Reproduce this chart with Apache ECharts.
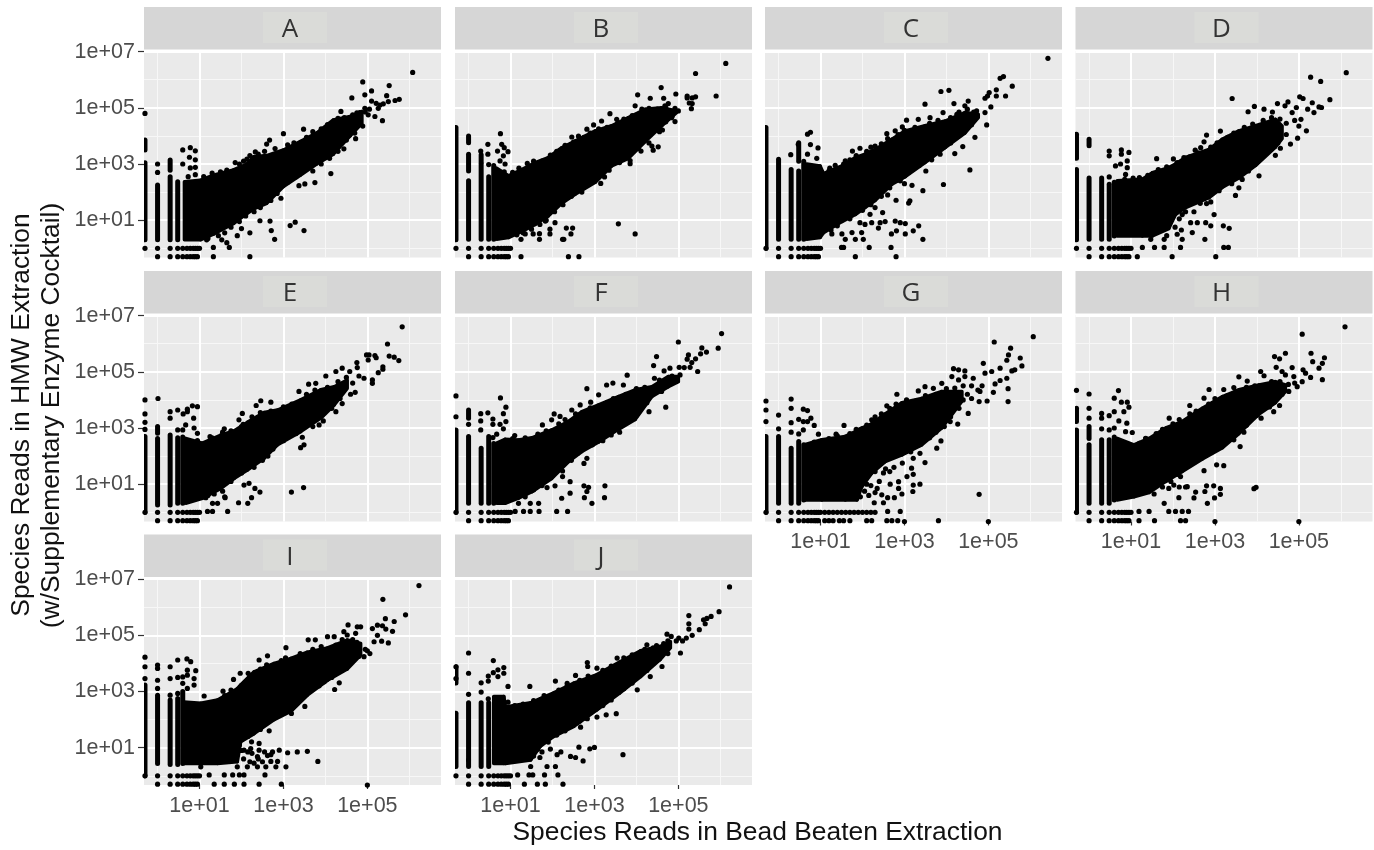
<!DOCTYPE html>
<html><head><meta charset="utf-8">
<style>html,body{margin:0;padding:0;background:#fff}#c{width:1374px;height:850px}</style>
<script src="https://cdn.jsdelivr.net/npm/echarts@6/dist/echarts.min.js"></script>
</head><body><div id="c"></div>
<script>
// All values are log10(reads): pts/edge = [x, y]; cols = [x, yLow, yHigh]; band = [x, yLow, yHigh]
const panels = ['A','B','C','D','E','F','G','H','I','J'];
const majorBreaksX = [10,1000,100000];
const minorBreaksX = [1,100,10000,1000000];
const majorBreaksY = [10,1000,100000,10000000];
const minorBreaksY = [1,100,10000,1000000];
const lowOneX = [-.3,0,.3,.48,.6,.7,.78,.85,.9,.95,1];
const lowHalfX = [0,.3,.48,.6,.7,.78,.85,.9,.95];

const A_cols=[[-.3,3.5,3.85],[-.3,.3,3.04],[0,.3,2.25],[.3,.3,2.55],[.3,2.78,3.14],[.48,.3,2.37]];
const A_band=[[.64,.3,2.37],[1.02,.3,2.42],[1.33,.5,2.6],[1.81,.88,2.79],[2.13,1.24,3.0],[2.29,1.4,3.26],[2.6,1.6,3.3],[3.0,2.2,3.5],[3.4,2.6,3.8],[3.79,3.0,4.1],[4.19,3.35,4.57],[4.59,4.0,4.69],[4.87,4.45,4.87]];
const A_edge=[[1.1,2.55],[1.3,2.68],[1.5,2.72],[1.65,2.78],[1.95,3.0],[2.05,3.1],[2.2,3.3],[2.4,3.35],[2.55,3.45],[2.8,3.55],[3.1,3.68],[3.25,3.75],[3.55,3.95],[3.7,4.15],[3.9,4.25],[4.05,4.4],[4.3,4.62],[4.45,4.65],[4.65,4.75],[4.75,4.82],[4.95,4.85],[5.05,4.95],[4.7,4.1],[4.5,3.85],[4.3,3.45],[4.1,3.2],[3.9,3.0],[3.7,2.75],[3.3,2.55],[3.1,2.35],[2.85,1.95],[2.7,1.7],[2.45,1.45],[2.3,1.3],[2.1,1.15],[1.95,.95],[1.75,.75],[1.6,.55],[1.45,.45],[1.2,.35]];
const A_pts=[[6.08,6.26],[4.89,5.92],[5.52,5.79],[5.1,5.6],[4.94,5.46],[4.63,5.35],[5.46,5.43],[5.76,5.3],[5.66,5.26],[5.5,5.22],[5.38,5.14],[5.3,5.1],[5.21,5.16],[5.26,4.98],[5.1,5.24],[4.94,4.98],[4.82,4.83],[5.02,4.75],[5.18,4.69],[5.36,4.54],[4.37,4.87],[4.89,4.35],[4.72,3.9],[4.44,3.54],[4.13,2.66],[3.75,2.34],[3.51,2.29],[3.37,2.23],[2.94,1.78],[3.49,.63],[3.28,.93],[3.16,.81],[2.79,.32],[2.71,.63],[2.68,.97],[2.44,.98],[3.0,4.08],[3.48,4.24],[2.67,3.85],[2.6,3.71],[2.33,3.43],[2.13,3.17],[1.85,3.05],[.6,3.5],[.78,3.58],[.9,3.47],[.76,3.24],[.9,3.15],[.6,3.0],[.9,2.88],[.78,2.86],[.73,2.55],[.9,2.62],[-.3,4.8],[0,3.0],[0,2.7],[1.33,-.3],[1.71,.03],[1.33,.03],[2.2,-.3],[1.17,.3],[1.53,.3],[2.2,.55],[2.0,.7],[1.9,.45],[1.65,.2]];

const B_cols=[[-.3,.3,4.3],[0,3.76,4.0],[0,2.75,3.35],[0,.32,2.4],[.3,3.05,3.33],[.3,.32,3.0],[.48,.32,2.55],[.6,.32,2.95]];
const B_band=[[.67,.32,2.85],[.95,.38,2.58],[1.27,.6,2.8],[1.59,.85,3.05],[1.9,1.15,3.23],[2.22,1.6,3.58],[2.54,1.92,3.82],[3.02,2.35,4.18],[3.41,2.93,4.36],[3.81,3.2,4.65],[4.21,3.8,4.95],[4.6,4.35,5.0],[4.96,4.83,4.89]];
const B_edge=[[.85,2.72],[1.05,2.7],[1.2,2.85],[1.4,3.02],[1.55,3.1],[1.75,3.1],[1.95,3.32],[2.1,3.45],[2.3,3.66],[2.5,3.78],[2.75,3.95],[2.9,4.1],[3.1,4.25],[3.3,4.3],[3.55,4.45],[3.7,4.6],[3.9,4.72],[4.1,4.8],[4.3,4.98],[4.5,4.95],[4.7,5.0],[4.85,4.7],[4.7,4.5],[4.55,4.15],[4.3,3.75],[4.05,3.55],[3.85,3.12],[3.6,3.05],[3.35,2.78],[3.1,2.6],[2.9,2.35],[2.7,2.0],[2.45,1.85],[2.25,1.55],[2.05,1.3],[1.85,1.0],[1.7,.85],[1.5,.68],[1.3,.55],[1.15,.48]];
const B_pts=[[6.13,6.58],[5.41,6.22],[5.9,5.42],[4.59,5.72],[4.94,5.49],[4.03,5.46],[4.33,5.34],[4.65,5.34],[5.21,5.42],[5.21,5.35],[5.33,5.35],[5.41,5.39],[5.26,5.17],[5.33,5.15],[5.31,4.97],[4.76,5.15],[4.68,5.07],[4.92,4.98],[5.0,4.89],[4.84,4.83],[4.76,4.89],[4.68,4.77],[4.92,4.51],[4.84,4.65],[4.62,4.21],[4.52,3.61],[4.4,3.49],[4.37,3.64],[4.11,3.46],[3.97,5.07],[4.29,4.91],[4.13,4.95],[3.37,4.79],[3.53,4.59],[3.17,4.53],[2.98,4.39],[2.82,4.24],[2.46,3.96],[2.62,3.99],[3.85,3.01],[3.24,2.54],[3.15,2.31],[3.57,.87],[3.97,.51],[2.33,.72],[2.48,.72],[2.44,.51],[2.24,.32],[2.27,.32],[2.38,-.3],[2.63,-.3],[1.25,-.3],[1.25,.32],[1.69,.32],[1.69,.52],[1.35,.51],[1.54,.51],[1.94,.51],[2.06,.91],[1.83,.97],[1.94,.68],[.76,4.08],[.46,3.7],[.79,3.7],[.85,3.58],[.94,3.44],[.69,3.46],[.46,3.35],[.83,3.29],[.75,3.11],[.87,3.0],[.29,3.46],[.48,2.98]];

const C_cols=[[-.3,0,4.3],[0,.32,3.17],[.3,.32,2.8],[.3,3.33,3.33],[.48,3.1,3.76],[.48,.32,2.75],[.6,.32,3.1]];
const C_band=[[.67,.32,3.0],[.99,.38,2.93],[1.07,.55,2.66],[1.51,.95,2.93],[1.83,1.2,3.23],[2.06,1.45,3.35],[2.3,1.7,3.52],[2.7,2.28,3.88],[3.02,2.55,4.18],[3.49,3.05,4.36],[3.97,3.58,4.53],[4.44,4.1,4.83],[4.76,4.65,4.77]];
const C_edge=[[1.2,2.75],[1.35,2.95],[1.55,3.0],[1.7,3.15],[1.85,3.3],[2.1,3.45],[2.2,3.6],[2.45,3.72],[2.6,3.9],[2.85,4.05],[3.0,4.2],[3.25,4.3],[3.6,4.45],[3.8,4.55],[4.1,4.65],[4.3,4.85],[4.5,4.95],[4.65,4.85],[4.6,4.4],[4.3,4.05],[4.1,3.75],[3.85,3.35],[3.65,3.15],[3.35,2.95],[3.1,2.7],[2.9,2.4],[2.65,2.15],[2.45,1.85],[2.2,1.55],[2.0,1.35],[1.7,1.05],[1.4,.8],[1.25,.65],[2.6,1.9],[3.0,2.3]];
const C_pts=[[6.42,6.76],[5.36,6.11],[5.28,6.05],[5.57,5.77],[5.19,5.64],[5.19,5.42],[5.41,5.42],[5.02,5.54],[4.98,5.42],[4.92,5.34],[5.06,5.03],[4.96,4.39],[4.68,3.95],[4.39,3.62],[4.2,3.37],[4.56,2.79],[3.93,2.27],[3.51,2.75],[3.18,2.24],[3.44,2.05],[2.8,1.71],[3.13,1.69],[3.1,1.61],[3.87,5.58],[4.06,5.62],[3.49,5.13],[4.18,5.15],[4.52,5.24],[4.44,5.07],[4.72,4.89],[4.92,4.83],[3.05,4.56],[3.33,4.59],[3.61,4.65],[3.92,4.83],[4.25,4.77],[.76,4.13],[.69,4.06],[.47,3.7],[.76,3.69],[.94,3.57],[.69,3.35],[.29,3.33],[.91,3.2],[1.22,2.85],[1.59,3.11],[1.76,3.46],[1.94,3.56],[2.3,3.64],[2.58,4.08],[2.78,4.18],[2.95,4.32],[3.44,.32],[3.34,.8],[3.21,.62],[3.02,.88],[3.02,.51],[2.9,.91],[2.78,.97],[2.81,.62],[2.69,.51],[2.54,.95],[2.48,1.27],[2.38,.72],[2.42,.91],[2.22,.91],[2.06,.85],[1.94,.91],[1.98,.56],[1.83,.32],[2.02,.32],[1.75,.56],[1.51,.51],[1.59,.32],[1.27,.51],[1.19,.8],[2.16,.03],[2.68,.03],[1.55,.03],[1.83,-.3],[2.8,-.3],[2.3,1.45],[2.18,1.21],[1.5,.03]];

const D_cols=[[-.3,3.2,4.06],[-.3,.3,2.8],[0,3.65,3.88],[0,.32,2.5],[.3,.32,2.5],[.48,.32,2.28],[.6,.44,2.35]];
const D_band=[[.67,.44,2.4],[1.27,.44,2.46],[1.51,.44,2.69],[1.9,.7,2.87],[2.06,1.2,3.0],[2.3,1.45,3.23],[2.86,1.8,3.52],[3.17,2.16,3.88],[3.57,2.5,4.18],[3.97,2.95,4.36],[4.44,3.6,4.59],[4.6,3.9,4.35]];
const D_edge=[[.85,2.45],[1.05,2.5],[1.2,2.52],[1.4,2.6],[1.65,2.8],[1.85,2.9],[2.1,3.05],[2.4,3.25],[2.6,3.4],[2.9,3.6],[3.05,3.75],[3.3,3.95],[3.45,4.1],[3.7,4.3],[3.9,4.42],[4.15,4.55],[4.35,4.65],[4.55,4.6],[4.7,4.45],[4.9,4.55],[5.0,4.35],[4.7,4.05],[4.5,3.75],[4.25,3.55],[4.0,3.1],[3.8,2.75],[3.65,2.45],[3.4,2.3],[3.1,2.05],[2.9,1.65],[2.65,1.6],[2.3,1.3],[2.15,1.05],[2.05,.75],[2.2,.65],[2.1,.5],[1.85,.45]];
const D_pts=[[6.13,6.25],[5.28,6.09],[5.52,5.94],[5.74,5.29],[3.41,5.33],[5.02,5.39],[5.1,5.33],[5.32,5.18],[5.48,5.03],[5.54,5.01],[5.36,4.83],[5.21,4.95],[4.49,5.15],[4.74,5.21],[4.67,5.07],[4.94,5.01],[4.84,4.83],[5.18,4.18],[5.05,4.59],[4.97,3.92],[4.8,3.71],[4.56,3.56],[4.44,3.31],[4.05,2.58],[3.57,2.15],[3.49,1.88],[2.8,1.59],[2.98,1.2],[3.34,.71],[3.2,.8],[2.78,.91],[2.9,.8],[2.76,.32],[2.58,.91],[2.42,.91],[2.46,.56],[2.22,.32],[2.18,.03],[1.79,.32],[1.79,.03],[1.56,.03],[1.27,.03],[3.21,.03],[3.32,.03],[3.02,-.3],[1.98,-.3],[1.15,-.3],[1.47,.32],[2.5,1.3],[2.22,1.2],[3.94,5.05],[3.79,4.86],[4.17,4.95],[4.37,4.85],[3.13,4.17],[2.8,4.03],[2.74,3.79],[2.66,3.58],[1.61,3.19],[2.01,3.18],[2.26,3.23],[2.53,3.49],[.77,3.5],[.95,3.41],[.77,3.35],[.48,3.46],[.48,3.29],[.91,3.11],[.63,2.93],[.75,3.0],[.91,2.87],[.87,2.63],[.48,2.54]];

const E_cols=[[-.3,0,2.7],[0,2.81,3.05],[0,.26,2.63],[.3,.26,2.75],[.48,.32,2.65],[.6,.32,2.68]];
const E_band=[[.67,.32,2.63],[1.07,.5,2.46],[1.51,.85,2.75],[1.83,1.21,2.9],[2.14,1.5,3.2],[2.54,1.92,3.55],[2.86,2.4,3.64],[3.41,2.87,4.0],[3.89,3.35,4.36],[4.21,3.82,4.47],[4.52,4.41,4.71]];
const E_edge=[[.95,2.55],[1.3,2.65],[1.55,2.85],[1.75,2.9],[2.0,3.05],[2.25,3.4],[2.45,3.55],[2.7,3.6],[3.0,3.75],[3.2,3.85],[3.55,4.2],[3.75,4.35],[4.05,4.45],[4.3,4.65],[4.5,4.8],[4.65,4.6],[4.6,4.2],[4.35,4.05],[4.15,3.7],[3.95,3.25],[3.7,3.05],[3.3,2.8],[3.0,2.55],[2.75,2.25],[2.5,1.85],[2.3,1.6],[2.0,1.4],[1.75,1.1],[1.55,.75],[1.35,.65],[1.2,.6],[1.6,.55]];
const E_pts=[[5.83,6.6],[5.48,5.99],[5.52,5.56],[5.64,5.52],[5.75,5.4],[4.98,5.6],[5.04,5.6],[5.18,5.58],[5.21,5.5],[5.02,5.42],[4.75,5.33],[4.76,5.15],[5.37,5.18],[5.37,5.09],[5.26,4.97],[5.12,4.71],[5.12,4.59],[4.92,4.77],[4.8,4.85],[4.58,5.01],[4.4,5.13],[4.25,5.01],[4.01,4.85],[4.71,4.27],[4.4,3.87],[4.25,3.58],[3.85,3.11],[3.6,4.56],[3.37,4.3],[3.77,4.59],[2.46,3.97],[2.35,3.8],[2.7,3.92],[2.02,3.52],[1.94,3.29],[2.04,3.13],[1.59,2.97],[1.25,2.69],[3.49,2.4],[3.41,2.3],[3.45,2.67],[2.63,2.0],[3.19,.72],[3.48,.88],[2.44,.72],[2.32,.85],[2.18,1.03],[2.06,.97],[2.24,.52],[2.15,.32],[1.93,.34],[1.61,.52],[1.67,.03],[1.31,.32],[1.43,.32],[1.15,.52],[1.19,.03],[1.31,.03],[.01,4.05],[.3,3.58],[.3,3.35],[.48,3.64],[.61,3.5],[.71,3.67],[.83,3.79],[.95,3.76],[.71,3.58],[.86,3.35],[.67,3.11],[.6,2.93],[.87,3.0],[.95,2.81],[.48,2.93],[-.3,4.0],[-.3,3.5],[-.3,3.2],[-.3,2.95]];

const F_cols=[[-.3,0,2.93],[0,3.35,3.64],[0,.32,2.7],[.3,.32,2.28],[.48,.32,2.7],[.6,.32,2.45]];
const F_band=[[.67,.32,2.46],[.87,.32,2.6],[1.19,.5,2.57],[1.51,.73,2.65],[1.98,1.2,2.93],[2.38,1.8,3.23],[2.7,2.16,3.58],[3.1,2.5,3.82],[3.57,2.95,4.12],[3.97,3.3,4.36],[4.37,4.12,4.47],[4.76,4.47,4.83],[5.0,4.65,4.83]];
const F_edge=[[1.05,2.62],[1.35,2.65],[1.65,2.78],[1.85,2.9],[2.15,3.15],[2.3,3.3],[2.55,3.5],[2.9,3.72],[3.3,3.9],[3.45,4.05],[3.75,4.2],[4.0,4.4],[4.2,4.45],[4.55,4.7],[4.85,4.85],[4.6,4.3],[4.25,3.9],[4.0,3.45],[3.8,3.25],[3.6,2.85],[3.4,2.75],[3.2,2.55],[2.95,2.4],[2.6,2.1],[2.45,1.85],[2.2,1.55],[2.0,1.3],[1.75,.95],[1.55,.8],[1.35,.55]];
const F_pts=[[6.03,6.36],[5.0,6.06],[5.95,5.84],[5.56,5.85],[5.67,5.7],[5.53,5.64],[5.41,5.46],[5.24,5.6],[5.21,5.45],[5.32,5.33],[5.28,5.16],[5.14,5.15],[5.02,5.16],[5.46,5.01],[4.48,5.54],[4.41,5.22],[4.8,5.13],[4.66,5.03],[4.43,4.77],[5.04,4.89],[4.7,3.74],[4.3,3.58],[3.78,4.88],[3.44,4.6],[3.29,4.53],[2.82,4.4],[3.69,4.53],[3.1,4.18],[2.91,3.92],[2.66,3.82],[2.46,3.64],[2.04,3.5],[2.18,3.41],[1.98,3.29],[1.76,3.11],[1.1,2.73],[3.25,.94],[3.24,.52],[2.94,.32],[2.86,.89],[2.75,.94],[2.82,.74],[2.76,.52],[2.42,1.09],[2.42,.68],[2.22,.5],[2.24,1.47],[2.24,1.27],[2.75,1.74],[2.82,1.92],[2.06,.94],[1.87,.88],[1.67,.32],[2.1,.03],[2.36,.03],[1.68,.03],[1.47,.03],[1.31,.03],[1.11,.03],[1.19,.32],[1.47,.32],[.76,4.07],[.89,3.74],[.83,3.51],[.29,3.51],[.46,3.54],[.58,3.32],[.89,3.23],[.75,3.13],[.58,3.13],[.83,2.97],[.29,3.25],[.29,2.93],[.67,2.78],[.58,2.66],[-.3,4.14],[-.3,3.4],[0,3.13]];

const G_cols=[[-.3,0,2.7],[0,.32,2.7],[.3,.32,2.28],[.48,.32,2.52],[.6,.44,2.4]];
const G_band=[[.6,.44,2.4],[1.03,.44,2.58],[1.59,.44,2.7],[1.87,.44,2.9],[1.98,.9,3.0],[2.22,1.39,3.15],[2.54,1.8,3.5],[2.94,2.04,3.9],[3.41,2.4,4.05],[3.89,3.0,4.3],[4.37,3.95,4.3]];
const G_edge=[[.85,2.5],[1.2,2.62],[1.4,2.72],[1.7,2.8],[1.85,2.95],[2.1,3.1],[2.3,3.3],[2.45,3.5],[2.65,3.7],[2.8,3.85],[3.05,4.0],[3.25,3.95],[3.5,4.15],[3.75,4.2],[4.0,4.4],[4.2,4.42],[4.4,4.5],[4.6,4.5],[4.75,4.35],[4.85,4.5],[4.5,4.2],[4.6,4.05],[4.4,4.0],[4.3,3.7],[4.1,3.4],[3.95,3.05],[3.75,2.85],[3.6,2.65],[3.35,2.4],[3.15,2.15],[2.95,1.75],[2.75,1.6],[2.55,1.55],[2.3,1.45],[2.5,1.4],[2.65,1.45],[2.1,1.0],[2.2,.95],[2.35,.85],[2.05,.75],[2.3,.7],[2.15,.6],[1.95,.55],[2.4,1.1]];
const G_pts=[[6.07,6.25],[5.14,6.06],[5.53,5.84],[5.48,5.6],[5.44,5.41],[5.76,5.49],[5.8,5.21],[5.63,5.07],[5.56,5.03],[5.28,5.13],[5.44,4.77],[5.47,4.4],[5.47,3.94],[5.12,4.27],[4.97,3.96],[5.16,4.57],[5.28,4.69],[4.88,5.3],[4.92,4.95],[5.08,5.01],[4.64,4.77],[4.8,4.3],[4.78,3.94],[4.17,5.11],[4.29,5.07],[4.44,5.03],[4.44,4.83],[4.13,4.83],[4.29,4.71],[3.89,4.59],[3.69,4.41],[3.49,4.47],[3.33,4.32],[2.82,4.2],[2.58,3.79],[4.52,3.52],[4.27,3.14],[4.09,3.23],[3.87,2.54],[3.77,2.28],[3.49,1.77],[3.37,2.1],[3.21,1.92],[3.17,1.57],[3.06,1.27],[3.21,1.35],[3.37,1.0],[3.21,.97],[3.2,.74],[2.94,.65],[2.86,1.09],[2.86,.85],[2.66,1.0],[2.76,.52],[2.6,.52],[2.46,.62],[2.5,.34],[2.28,.34],[4.78,.64],[1.56,3.09],[1.94,2.93],[2.22,3.29],[2.3,3.4],[2.6,.03],[2.9,.03],[3.81,-.3],[5.0,-.33],[3.0,-.33],[2.1,-.3],[2.22,-.3],[2.58,-.3],[2.7,-.3],[2.84,-.3],[1.1,0],[1.2,0],[1.3,0],[1.4,0],[1.5,0],[1.6,0],[1.7,0],[1.8,0],[1.9,0],[2.0,0],[2.1,0],[2.2,0],[2.3,0],[1.1,-.3],[1.2,-.3],[1.3,-.3],[1.45,-.3],[1.55,-.3],[1.7,-.3],[.3,4.03],[.3,3.7],[.59,3.67],[.69,3.62],[.77,3.35],[.59,3.23],[.48,3.31],[.69,3.23],[.85,3.09],[.3,3.19],[.59,2.93],[0,3.46],[0,2.97],[.3,2.85],[.48,2.79],[-.3,3.96],[-.3,3.64],[-.3,3.23],[.95,2.78],[1.37,2.78]];

const H_cols=[[-.3,3.23,3.7],[-.3,0,2.93],[0,2.63,3.05],[0,.32,2.4],[.3,.32,2.58],[.48,.32,2.58],[.6,.44,2.68]];
const H_band=[[.67,.44,2.63],[1.07,.55,2.4],[1.43,.7,2.63],[1.83,1.1,3.0],[2.22,1.45,3.23],[2.7,1.9,3.7],[3.18,2.3,4.12],[3.57,2.8,4.36],[4.05,3.5,4.53],[4.44,3.9,4.65],[4.68,4.3,4.53]];
const H_edge=[[1.2,2.45],[1.35,2.62],[1.6,2.8],[1.75,2.95],[2.0,3.15],[2.15,3.3],[2.4,3.5],[2.55,3.6],[2.85,3.85],[3.0,4.05],[3.3,4.15],[3.5,4.3],[3.75,4.45],[3.95,4.5],[4.2,4.5],[4.35,4.65],[4.55,4.65],[4.75,4.55],[4.9,4.6],[4.6,4.2],[4.3,3.75],[4.0,3.45],[3.75,3.1],[3.55,2.95],[3.25,2.7],[3.05,2.3],[2.85,2.1],[2.55,1.9],[2.4,1.7],[2.1,1.35],[1.95,1.1],[1.75,.9],[1.55,.65],[1.9,.85],[2.15,.9],[2.3,.9]];
const H_pts=[[6.1,6.6],[5.08,6.34],[4.68,5.66],[4.42,5.54],[4.54,5.46],[4.46,5.16],[5.29,5.66],[5.61,5.5],[5.33,5.36],[5.56,5.3],[5.48,5.13],[5.56,4.72],[5.28,4.8],[5.16,4.95],[5.1,5.07],[4.84,5.15],[4.88,4.83],[5.08,4.65],[4.96,4.47],[4.6,5.01],[4.68,4.89],[4.76,4.3],[4.54,3.8],[4.4,3.58],[4.09,5.01],[4.17,4.86],[3.77,4.67],[3.57,4.82],[2.86,4.37],[3.21,4.37],[3.45,4.44],[2.4,3.8],[2.74,4.06],[1.91,3.35],[4.1,3.35],[3.69,2.85],[3.6,2.34],[3.45,2.58],[3.21,1.66],[3.04,1.69],[2.74,1.48],[3.93,.84],[3.98,.89],[3.13,.85],[3.13,.64],[2.97,.94],[2.8,.94],[2.99,.51],[2.82,.32],[2.76,.74],[2.54,.72],[2.5,.51],[2.34,.91],[2.18,1.27],[2.02,.97],[2.14,.52],[1.79,.32],[1.9,.03],[2.06,.03],[2.22,.03],[2.37,.03],[1.43,.03],[1.19,.03],[1.19,-.3],[1.56,-.3],[2.18,-.3],[2.3,-.3],[3,-.33],[5,-.33],[0,4.21],[-.3,4.34],[.7,4.33],[.6,4.06],[.77,3.92],[.91,3.92],[.95,3.74],[.83,3.58],[.6,3.58],[.48,3.44],[.3,3.52],[.3,3.35],[0,3.7],[0,3.35],[.9,3.17],[.71,3.25],[.6,3.0],[.48,2.93],[.3,2.97],[.87,2.87],[1.03,2.84],[1.35,2.63]];

const I_cols=[[-.3,0,3.23],[0,.44,2.87],[.3,.4,2.7],[.48,.4,2.75],[.6,.44,3.0]];
const I_band=[[.63,.44,2.63],[1.03,.44,2.58],[1.43,.44,2.7],[1.9,.5,3.1],[1.98,1.21,3.23],[2.3,1.5,3.7],[2.78,2.0,4.0],[3.18,2.3,4.18],[3.57,2.87,4.4],[4.05,3.4,4.55],[4.52,3.8,4.83],[4.84,4.3,4.71]];
const I_edge=[[1.25,2.6],[1.6,2.85],[1.75,3.05],[2.15,3.4],[2.2,3.55],[2.45,3.8],[2.6,3.95],[2.95,4.1],[3.05,4.2],[3.4,4.35],[3.7,4.5],[3.9,4.6],[4.25,4.65],[4.4,4.85],[4.65,4.85],[4.75,4.75],[4.95,4.5],[5.0,4.45],[4.8,4.25],[4.4,3.85],[4.15,3.5],[3.85,3.2],[3.4,2.75],[3.25,2.5],[2.95,2.2],[2.55,1.85],[2.45,1.65],[2.15,1.4],[1.95,1.1],[2.0,.9],[2.15,.85],[2.25,.8],[2.4,.6],[2.05,.6],[2.2,.5],[2.55,.85],[2.7,.75],[2.5,.5],[2.3,.45]];
const I_pts=[[6.23,6.77],[5.37,6.28],[5.91,5.73],[5.43,5.59],[5.64,5.49],[4.54,5.37],[5.24,5.36],[5.36,5.34],[5.12,5.24],[5.44,5.22],[5.6,5.14],[5.24,5.0],[5.16,4.77],[5.34,4.79],[5.5,4.73],[4.76,5.3],[4.84,5.3],[4.44,5.13],[4.05,4.95],[4.21,4.95],[4.52,5.01],[4.72,5.07],[3.59,4.84],[3.76,4.84],[3.06,4.56],[4.92,4.24],[5.06,4.35],[4.22,3.07],[4.33,3.31],[3.97,3.35],[3.51,2.47],[3.19,2.22],[3.41,2.75],[2.66,1.6],[2.24,1.21],[2.42,1.15],[3.57,.87],[3.33,.85],[3.1,.82],[3.82,.51],[3.06,.32],[2.9,.91],[2.74,.85],[2.62,.72],[2.86,.51],[2.7,.51],[2.42,.91],[2.22,.97],[2.38,.68],[2.06,.91],[2.82,.32],[2.58,.32],[2.38,.32],[2.14,.32],[1.9,.32],[1.67,.52],[1.47,.52],[1.23,.03],[1.59,.03],[1.79,.03],[1.95,.03],[2.06,.03],[2.56,.03],[1.59,-.3],[1.83,-.3],[2.06,-.3],[2.42,-.3],[2.95,-.3],[5,-.33],[1.35,-.3],[1.03,.32],[1.56,3.01],[1.81,3.43],[1.97,3.65],[2.16,3.65],[2.42,4.12],[2.62,4.27],[2.06,3.23],[1.11,2.84],[.48,4.12],[.7,4.16],[.79,4.06],[-.3,4.22],[.91,3.74],[.71,3.76],[.3,3.88],[0,3.94],[0,3.82],[0,3.4],[0,3.11],[.3,3.46],[.48,3.5],[.6,3.52],[.71,3.58],[.87,3.46],[.6,3.29],[.87,3.23],[.71,3.11],[-.3,3.88],[-.3,3.46],[.3,2.87],[.48,2.93]];

const J_cols=[[-.3,3.3,3.88],[-.3,.33,2.23],[0,.56,2.6],[0,.33,.56],[.3,.33,2.6],[.48,.33,2.6]];
const J_band=[[.6,.44,2.82],[.84,.44,2.82],[.88,.44,2.45],[1.48,.56,2.6],[1.71,1.05,2.75],[2.03,1.4,2.95],[2.51,1.76,3.3],[3.06,2.35,3.6],[3.6,2.94,4.05],[4.1,3.53,4.45],[4.56,4.13,4.6],[4.81,4.55,4.78]];
const J_edge=[[1.1,2.5],[1.3,2.55],[1.55,2.68],[1.8,2.85],[2.15,3.05],[2.35,3.2],[2.65,3.4],[2.85,3.55],[3.2,3.75],[3.4,3.9],[3.7,4.2],[3.9,4.3],[4.2,4.5],[4.4,4.55],[4.65,4.7],[4.75,4.8],[4.95,4.8],[5.1,4.8],[4.75,4.35],[4.4,4.0],[4.25,3.75],[3.9,3.3],[3.7,3.1],[3.4,2.7],[3.2,2.5],[2.8,2.05],[2.65,1.95],[2.3,1.6],[2.1,1.45],[1.9,1.2],[1.65,.95],[1.75,.85],[1.95,.95],[2.2,.85],[1.55,.7],[1.7,.65]];
const J_pts=[[6.22,6.72],[5.97,5.84],[5.78,5.67],[5.68,5.6],[5.6,5.55],[5.64,5.41],[5.5,5.2],[5.25,5.7],[5.25,5.41],[5.25,5.22],[5.33,5.0],[5.19,4.9],[5.05,4.37],[5.01,4.9],[4.73,5.04],[4.83,4.96],[4.61,3.89],[4.33,3.53],[4.02,3.06],[3.52,2.21],[3.28,2.17],[3.06,2.09],[2.83,2.03],[2.67,1.73],[3.68,.75],[3.0,1.01],[2.89,.96],[2.73,.53],[2.63,1.02],[2.55,.65],[2.43,.69],[2.11,.75],[1.87,.33],[2.07,.33],[2.13,.03],[1.81,.03],[1.53,.03],[1.17,.03],[1.44,.03],[1.48,.33],[2.25,-.3],[1.83,-.3],[1.64,-.3],[1.33,-.3],[4.25,4.66],[4.48,4.63],[2.83,4.03],[2.55,3.57],[2.07,3.37],[2.35,3.29],[1.46,3.18],[.94,3.18],[2.84,3.89],[3.06,3.83],[3.54,4.19],[0,4.37],[0,3.65],[.59,4.1],[.84,3.85],[.7,3.77],[.59,3.67],[.84,3.65],[.47,3.55],[.47,3.37],[.7,3.53],[.3,3.31],[.3,2.98],[.47,2.74],[.94,2.62],[-.3,3.88],[-.3,3.46],[0,2.9]];

const cols={A:A_cols,B:B_cols,C:C_cols,D:D_cols,E:E_cols,F:F_cols,G:G_cols,H:H_cols,I:I_cols,J:J_cols};
const bands={A:A_band,B:B_band,C:C_band,D:D_band,E:E_band,F:F_band,G:G_band,H:H_band,I:I_band,J:J_band};
const pts={A:A_pts,B:B_pts,C:C_pts,D:D_pts,E:E_pts,F:F_pts,G:G_pts,H:H_pts,I:I_pts,J:J_pts};
const edges={A:A_edge,B:B_edge,C:C_edge,D:D_edge,E:E_edge,F:F_edge,G:G_edge,H:H_edge,I:I_edge,J:J_edge};

const FONT='"Liberation Sans",Arial,sans-serif';
const lefts=[144,455,765,1075.5], tops=[51,315,578.5], W=297, H=206.5, STRIP=42.5;
const rd=v=>Math.pow(10,v);
const chart=echarts.init(document.getElementById('c'),null,{renderer:'canvas'});
const grid=[],xAxis=[],yAxis=[],series=[],graphic=[];
const showXLabels=new Set(['G','H','I','J']);
const expLabel=v=>'1e+'+String(Math.round(Math.log10(v))).padStart(2,'0');
panels.forEach((p,i)=>{
  const c=i%4,r=Math.floor(i/4),l=lefts[c],t=tops[r];
  grid.push({left:l,top:t,width:W,height:H,show:true,backgroundColor:'#EAEAEA',borderWidth:0});
  xAxis.push({type:'log',logBase:10,gridIndex:i,min:0.475,max:5.69e6,
    axisLine:{show:false},
    axisTick:{show:showXLabels.has(p),length:4,customValues:majorBreaksX,lineStyle:{color:'#333',width:1.2}},
    axisLabel:{show:showXLabels.has(p),customValues:majorBreaksX,margin:10,color:'#4D4D4D',fontFamily:FONT,fontSize:21.5,formatter:expLabel},
    splitLine:{show:false}});
  yAxis.push({type:'log',logBase:10,gridIndex:i,min:0.47,max:1.05e7,
    axisLine:{show:false},
    axisTick:{show:c===0,length:6,customValues:majorBreaksY,lineStyle:{color:'#333',width:1.2}},
    axisLabel:{show:c===0,customValues:majorBreaksY,margin:9,color:'#4D4D4D',fontFamily:FONT,fontSize:21.5,formatter:expLabel},
    splitLine:{show:false}});
  series.push({type:'scatter',xAxisIndex:i,yAxisIndex:i,data:[],silent:true,z:1,animation:false,symbolSize:0,
    markLine:{silent:true,symbol:'none',animation:false,z:1,label:{show:false},emphasis:{disabled:true},
      data:[
        ...minorBreaksX.map(v=>({xAxis:v,lineStyle:{color:'#F7F7F7',width:1,type:'solid'}})),
        ...minorBreaksY.map(v=>({yAxis:v,lineStyle:{color:'#F7F7F7',width:1,type:'solid'}})),
        ...majorBreaksX.map(v=>({xAxis:v,lineStyle:{color:'#FFF',width:2,type:'solid'}})),
        ...majorBreaksY.map(v=>({yAxis:v,lineStyle:{color:'#FFF',width:2,type:'solid'}}))
      ]}});
  series.push({type:'custom',xAxisIndex:i,yAxisIndex:i,silent:true,z:3,animation:false,clip:true,
    data:bands[p].map(s=>[rd(s[0]),rd(s[1]),rd(s[2])]),encode:{x:0,y:[1,2]},
    renderItem:(params,api)=>{
      const b=bands[p],k=params.dataIndex;
      if(k>=b.length-1) return {type:'group',children:[]};
      const P=[api.coord([rd(b[k][0]),rd(b[k][1])]),api.coord([rd(b[k+1][0]),rd(b[k+1][1])]),
               api.coord([rd(b[k+1][0]),rd(b[k+1][2])]),api.coord([rd(b[k][0]),rd(b[k][2])])];
      return {type:'polygon',shape:{points:P},style:{fill:'#000',stroke:'#000',lineWidth:3.5,lineJoin:'round'}};
    }});
  series.push({type:'custom',xAxisIndex:i,yAxisIndex:i,silent:true,z:3,animation:false,clip:true,
    data:cols[p].map(s=>[rd(s[0]),rd(s[1]),rd(s[2])]),encode:{x:0,y:[1,2]},
    renderItem:(params,api)=>{
      const a=api.coord([api.value(0),api.value(1)]),b=api.coord([api.value(0),api.value(2)]);
      return {type:'line',shape:{x1:a[0],y1:a[1],x2:b[0],y2:b[1]},style:{stroke:'#000',lineWidth:5,lineCap:'round'}};
    }});
  const data=[...pts[p],...edges[p],...lowOneX.map(x=>[x,0]),...lowHalfX.map(x=>[x,-.3])].map(q=>[rd(q[0]),rd(q[1])]);
  series.push({type:'scatter',xAxisIndex:i,yAxisIndex:i,data,symbol:'circle',symbolSize:5.2,silent:true,z:4,animation:false,clip:true,
    itemStyle:{color:'#000',opacity:1}});
  graphic.push({type:'rect',shape:{x:l,y:t-44,width:W,height:STRIP},style:{fill:'#D6D6D6'},silent:true,z:1});
  graphic.push({type:'rect',shape:{x:l+119,y:t-39,width:64,height:31},style:{fill:'#DADBD8'},silent:true,z:2});
  graphic.push({type:'text',x:l+146,y:t-21,style:{text:p,font:'26px "Open Sans",sans-serif',fill:'#333',textAlign:'center',textVerticalAlign:'middle'},silent:true,z:3});
});
graphic.push({type:'text',x:757.5,y:833,style:{text:'Species Reads in Bead Beaten Extraction',font:'26.4px '+FONT,fill:'#111',textAlign:'center',textVerticalAlign:'middle'},silent:true});
graphic.push({type:'text',x:22,y:415,rotation:Math.PI/2,style:{text:'Species Reads in HMW Extraction',font:'26.4px '+FONT,fill:'#111',textAlign:'center',textVerticalAlign:'middle'},silent:true});
graphic.push({type:'text',x:52,y:415.5,rotation:Math.PI/2,style:{text:'(w/Supplementary Enzyme Cocktail)',font:'26.4px '+FONT,fill:'#111',textAlign:'center',textVerticalAlign:'middle'},silent:true});
chart.setOption({animation:false,backgroundColor:'#fff',grid,xAxis,yAxis,series,graphic,tooltip:{show:false}});
</script></body></html>
